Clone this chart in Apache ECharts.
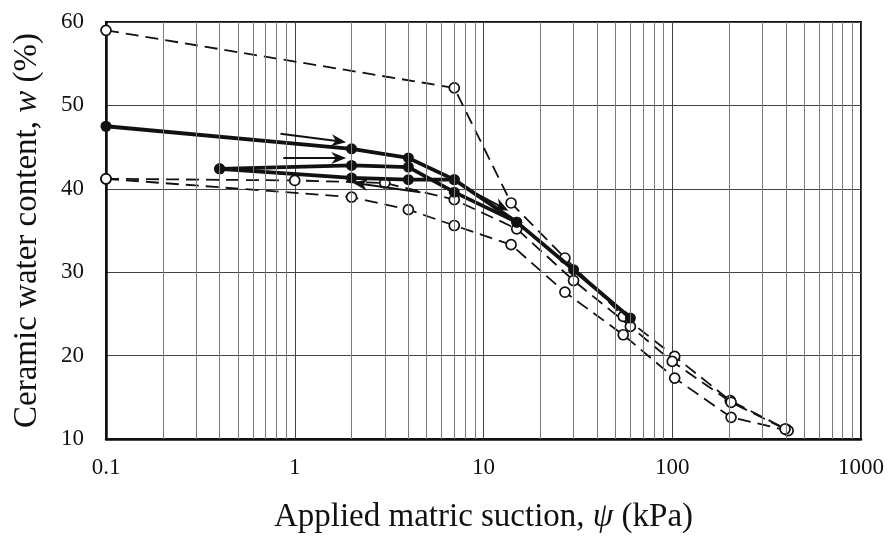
<!DOCTYPE html>
<html>
<head>
<meta charset="utf-8">
<script src="https://cdn.jsdelivr.net/npm/echarts@6/dist/echarts.min.js"></script>
<style>
html, body { margin: 0; padding: 0; background: #fff; }
#main { width: 888px; height: 550px; }
</style>
</head>
<body>
<div id="main"></div>
<script>
// suction (kPa), water content (%)
var dryFirst = [[0.1, 59.0], [7, 52.1], [14, 38.3], [27, 31.7], [55, 24.7], [103, 19.9], [203, 14.6], [400, 11.2]];
var dryLower = [[0.1, 41.2], [2, 39.0], [4, 37.5], [7, 35.6], [14, 33.3], [27, 27.6], [55, 22.5], [103, 17.3], [205, 12.6], [411, 11.0]];
var dryMiddle = [[0.1, 41.2], [1, 41.0], [3, 40.7], [7, 38.7], [15, 35.2], [30, 29.0], [60, 23.5], [100, 19.3], [205, 14.4], [396, 11.2]];

var solidTop = [[0.1, 47.5], [2, 44.8], [4, 43.7], [7, 41.1]];
var solidMid = [[0.4, 42.4], [2, 42.8], [4, 42.6], [7, 39.6], [15, 36.0], [30, 30.3], [60, 24.5]];
var solidLow = [[0.4, 42.4], [2, 41.3], [4, 41.1], [7, 41.1], [15, 36.0]];

// arrows: [from, to]
var arrows = [
	[[0.84, 46.6], [1.71, 45.7]],
	[[0.87, 43.7], [1.71, 43.7]],
	[[4.63, 39.6], [2.22, 40.6]],
	[[9.2, 39.4], [12.5, 37.8]]
];

var xMin = 0.1, xMax = 1000;
var yTicks = [10, 20, 30, 40, 50, 60];

// minor grid lines 2..9 in every decade
var minorLines = [];
for (var d = 0.1; d < 999; d *= 10) {
	for (var k = 2; k <= 9; k++) {
		minorLines.push(+(d * k).toPrecision(3));
	}
}

var serif = '"Liberation Serif", "DejaVu Serif", serif';
var ink = '#111';

function dashed(name, data) {
	return {
		name: name,
		type: 'line',
		data: data,
		z: 3,
		symbol: 'circle',
		symbolSize: 10,
		lineStyle: { color: ink, width: 1.8, type: [13, 7] },
		itemStyle: { color: '#fff', borderColor: ink, borderWidth: 1.7 },
		emphasis: { disabled: true }
	};
}

function solid(name, data) {
	return {
		name: name,
		type: 'line',
		data: data,
		z: 4,
		symbol: 'circle',
		symbolSize: 11,
		lineStyle: { color: ink, width: 3.8 },
		itemStyle: { color: ink, borderWidth: 0 },
		emphasis: { disabled: true }
	};
}

var option = {
	animation: false,
	backgroundColor: '#fff',
	grid: {
		left: 106, right: 27, top: 22, bottom: 111,
		show: true, borderColor: ink, borderWidth: 2
	},
	xAxis: {
		type: 'log',
		logBase: 10,
		min: xMin,
		max: xMax,
		name: 'Applied matric suction, {i|ψ} (kPa)',
		nameLocation: 'middle',
		nameGap: 62,
		nameTextStyle: {
			fontFamily: serif, fontSize: 33, color: ink,
			rich: { i: { fontFamily: serif, fontSize: 33, fontStyle: 'italic', color: ink } }
		},
		axisLine: { lineStyle: { color: ink, width: 2.5 } },
		axisTick: { show: false },
		axisLabel: {
			fontFamily: serif, fontSize: 23, color: ink, margin: 17,
			formatter: function (v) { return String(+v.toPrecision(3)); }
		},
		splitLine: { show: true, lineStyle: { color: '#444', width: 1 } }
	},
	yAxis: {
		type: 'value',
		min: yTicks[0],
		max: yTicks[yTicks.length - 1],
		interval: 10,
		name: 'Ceramic water content, {i|w} (%)',
		nameLocation: 'middle',
		nameGap: 62,
		nameRotate: 90,
		nameTextStyle: {
			fontFamily: serif, fontSize: 33, color: ink,
			rich: { i: { fontFamily: serif, fontSize: 33, fontStyle: 'italic', color: ink } }
		},
		axisLine: { show: true, lineStyle: { color: ink, width: 2.5 } },
		axisTick: { show: false },
		axisLabel: { fontFamily: serif, fontSize: 23, color: ink, margin: 22 },
		splitLine: { show: true, lineStyle: { color: '#444', width: 1 } }
	},
	series: [
		{
			// minor vertical grid
			type: 'line',
			data: [],
			z: 1,
			silent: true,
			markLine: {
				silent: true,
				symbol: 'none',
				label: { show: false },
				lineStyle: { color: '#7a7a7a', width: 1, type: 'solid' },
				data: minorLines.map(function (v) { return { xAxis: v }; })
			}
		},
		dashed('dry1', dryFirst),
		dashed('dry2', dryLower),
		dashed('dry3', dryMiddle),
		solid('s1', solidTop),
		solid('s2', solidMid),
		solid('s3', solidLow),
		{
			// arrows
			type: 'line',
			data: [],
			z: 5,
			silent: true,
			markLine: {
				silent: true,
				symbol: ['none', 'path://M5,0 L10,13 L5,9 L0,13 Z'],
				symbolSize: [12, 15],
				label: { show: false },
				lineStyle: { color: ink, width: 2, type: 'solid' },
				data: arrows.map(function (a) {
					return [{ coord: a[0] }, { coord: a[1] }];
				})
			}
		}
	]
};

var myChart = echarts.init(document.getElementById('main'));
myChart.setOption(option);
</script>
</body>
</html>
